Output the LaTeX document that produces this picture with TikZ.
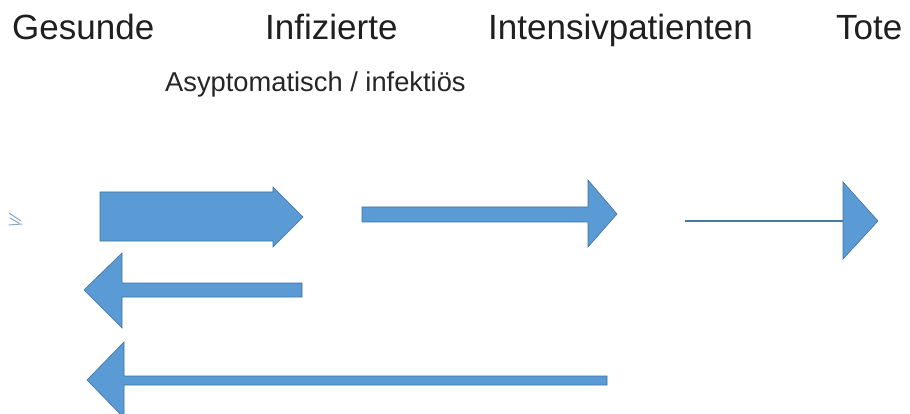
\documentclass[tikz,border=0pt]{standalone}
\usepackage{fontspec}
\setmainfont{Liberation Sans}
\definecolor{arrfill}{HTML}{5B9BD5}
\definecolor{arrline}{HTML}{41719C}
\definecolor{faint}{HTML}{8EA6C6}
\begin{document}
\begin{tikzpicture}[x=1pt,y=-1pt,
  title/.style={anchor=base west,inner sep=0pt,text=black!88,font=\fontsize{35}{40}\selectfont},
  subtitle/.style={anchor=base west,inner sep=0pt,text=black!85,font=\fontsize{27.3}{30}\selectfont},
  blockarrow/.style={fill=arrfill,draw=arrline,line width=0.6pt,line join=miter}]
\useasboundingbox (0,0) rectangle (910,414);
\clip (0,0) rectangle (910,414);
\fill[white] (0,0) rectangle (910,414);
% headings
\node[title] (gesunde) at (12,40) {Gesunde};
\node[title] (infiz) at (265,40) {Infizierte};
\node[title] (intens) at (488,40) {Intensivpatienten};
\node[title] (tote) at (836,40) {Tote};
\node[subtitle] (asym) at (165,92) {Asyptomatisch / infektiös};
% small faint mark
\draw[faint,line width=1pt,line cap=round] (9,213) -- (21,221) (10,218) -- (19,223) (9,225) -- (22,224);
% arrow 1 (thick, right)
\path[blockarrow] (100,192) -- (273,192) -- (273,187) -- (303,217) -- (273,247) -- (273,241) -- (100,241) -- cycle;
% arrow 2 (medium, right)
\path[blockarrow] (362,207) -- (588,207) -- (588,180) -- (617,214) -- (588,247) -- (588,222) -- (362,222) -- cycle;
% arrow 3 (thin, right)
\draw[arrline!80!arrfill,line width=2pt] (685,221) -- (844,221);
\path[blockarrow] (843,182) -- (878,221) -- (843,259) -- cycle;
% arrow 4 (medium, left)
\path[blockarrow] (302,283) -- (122,283) -- (122,253) -- (84,290) -- (122,328) -- (122,297) -- (302,297) -- cycle;
% arrow 5 (long, left)
\path[blockarrow] (607,376) -- (124,376) -- (124,342) -- (87,380) -- (124,418) -- (124,385) -- (607,385) -- cycle;
\end{tikzpicture}
\end{document}
